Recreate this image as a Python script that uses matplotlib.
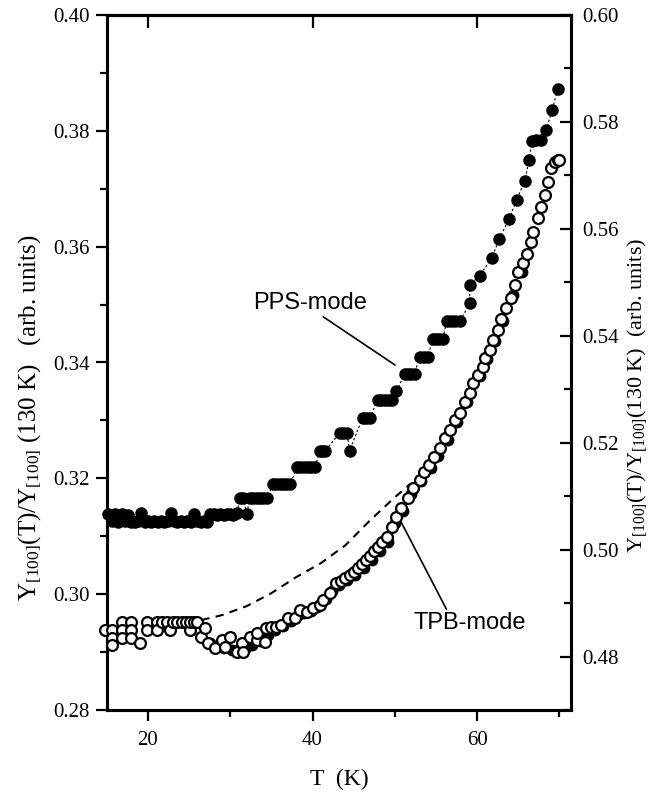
import numpy as np
import matplotlib
matplotlib.use("Agg")
import matplotlib.pyplot as plt
from matplotlib.ticker import FormatStrFormatter, NullLocator

plt.rcParams['font.family'] = ['Liberation Serif', 'DejaVu Serif']
plt.rcParams['mathtext.fontset'] = 'custom'
plt.rcParams['mathtext.rm'] = 'Liberation Serif'
plt.rcParams['mathtext.it'] = 'Liberation Serif:italic'

# PPS-mode (filled, left axis)
T_pps = [15.2, 15.6, 16.0, 16.4, 16.8, 17.2, 17.6, 18.0, 18.4, 18.8, 19.2, 19.6,
         20.0, 20.4, 20.8, 21.2, 21.6, 22.0, 22.4, 22.8, 23.2, 23.6, 24.0, 24.4,
         24.8, 25.2, 25.6, 26.0, 26.4, 26.8, 27.2, 27.6, 28.0, 28.4, 28.8, 29.2,
         29.6, 30.0, 30.4, 30.8, 31.2, 31.6, 32.0, 32.4, 32.8, 33.2, 33.6, 34.0,
         34.5, 35.2, 35.6, 36.0, 36.4, 36.8, 37.3, 38.1, 38.5, 39.0, 39.4, 39.8,
         40.3, 40.9, 41.2, 41.5, 43.3, 43.7, 44.2, 44.5, 46.1, 46.5, 47.0, 47.9,
         48.3, 48.8, 49.3, 49.7, 50.2, 51.2, 51.6, 52.0, 52.4, 53.0, 53.5, 54.0,
         54.6, 55.0, 55.4, 55.8, 56.3, 56.8, 57.3, 57.9, 59.1, 59.1, 60.3, 61.8,
         62.7, 63.9, 64.8, 65.8, 66.3, 66.7, 67.2, 67.8, 68.4, 69.1, 69.8]
Y_pps = [0.3138, 0.3126, 0.3138, 0.3124, 0.3138, 0.3126, 0.3136, 0.3124, 0.3124, 0.3126, 0.3140, 0.3124,
         0.3126, 0.3124, 0.3126, 0.3124, 0.3126, 0.3124, 0.3126, 0.3140, 0.3126, 0.3124, 0.3126, 0.3124,
         0.3126, 0.3124, 0.3138, 0.3126, 0.3124, 0.3126, 0.3124, 0.3138, 0.3138, 0.3136, 0.3138, 0.3136,
         0.3138, 0.3138, 0.3136, 0.3140, 0.3166, 0.3166, 0.3138, 0.3166, 0.3166, 0.3166, 0.3166, 0.3166,
         0.3166, 0.3190, 0.3190, 0.3190, 0.3190, 0.3190, 0.3190, 0.3219, 0.3219, 0.3219, 0.3219, 0.3219,
         0.3219, 0.3247, 0.3247, 0.3247, 0.3278, 0.3278, 0.3278, 0.3248, 0.3305, 0.3305, 0.3305, 0.3336,
         0.3336, 0.3336, 0.3336, 0.3336, 0.3350, 0.3381, 0.3381, 0.3381, 0.3381, 0.3410, 0.3410, 0.3410,
         0.3440, 0.3440, 0.3440, 0.3440, 0.3471, 0.3471, 0.3471, 0.3471, 0.3502, 0.3534, 0.3550, 0.3581,
         0.3614, 0.3648, 0.3681, 0.3714, 0.3750, 0.3783, 0.3784, 0.3784, 0.3802, 0.3836, 0.3872]

# TPB-mode (open, right axis)
T_tpb = [14.8, 15.7, 15.7, 15.7, 16.9, 16.9, 16.9, 18.0, 18.0, 18.0, 19.0, 19.9,
         19.9, 21.1, 21.1, 21.7, 22.3, 22.7, 23.1, 23.6, 24.1, 24.6, 25.1, 25.1,
         25.6, 26.0, 26.5, 26.9, 27.3, 28.1, 29.0, 29.4, 30.0, 30.8, 31.4, 31.6,
         32.4, 33.2, 33.2, 34.2, 34.4, 35.0, 35.6, 36.2, 37.0, 37.9, 38.5, 39.3,
         40.1, 40.9, 41.3, 42.1, 42.9, 43.5, 44.0, 44.5, 45.0, 45.5, 46.0, 46.5,
         47.0, 47.5, 48.0, 48.5, 49.0, 49.6, 50.2, 50.8, 51.6, 52.2, 53.0, 53.6,
         54.2, 54.8, 55.5, 56.1, 56.7, 57.3, 57.9, 58.5, 59.1, 59.5, 60.1, 60.7,
         60.9, 61.5, 61.9, 62.5, 62.9, 63.5, 64.1, 64.6, 65.0, 65.6, 66.0, 66.6,
         66.8, 67.4, 67.8, 68.2, 68.6, 69.0, 69.4, 69.8, 70.0]
Y_tpb = [0.48494, 0.48494, 0.48344, 0.48213, 0.48649, 0.48494, 0.48344, 0.48649, 0.48494, 0.48344, 0.48251, 0.48649,
         0.48494, 0.48649, 0.48494, 0.48649, 0.48649, 0.48494, 0.48649, 0.48649, 0.48649, 0.48649, 0.48494, 0.48649,
         0.48649, 0.48649, 0.48369, 0.48531, 0.48251, 0.48157, 0.48307, 0.48181, 0.48369, 0.48088, 0.48251, 0.48088,
         0.48369, 0.48307, 0.48438, 0.48275, 0.48531, 0.48556, 0.48556, 0.48587, 0.48713, 0.48713, 0.48868, 0.48836,
         0.48900, 0.48962, 0.49055, 0.49181, 0.49368, 0.49411, 0.49467, 0.49523, 0.49580, 0.49654, 0.49729, 0.49804,
         0.49879, 0.49972, 0.50047, 0.50141, 0.50234, 0.50421, 0.50614, 0.50771, 0.50958, 0.51145, 0.51300, 0.51456,
         0.51581, 0.51736, 0.51893, 0.52080, 0.52236, 0.52423, 0.52548, 0.52765, 0.52922, 0.53109, 0.53265, 0.53420,
         0.53577, 0.53732, 0.53920, 0.54107, 0.54312, 0.54518, 0.54715, 0.54949, 0.55197, 0.55370, 0.55528, 0.55759,
         0.55946, 0.56197, 0.56413, 0.56632, 0.56881, 0.57132, 0.57255, 0.57287, 0.57287]

# second TPB run (filled, mostly hidden under the open circles)
T_tpb2 = [27.5, 28.4, 29.2, 30.2, 31.0, 31.8, 32.7, 33.6, 34.6, 35.4, 36.4, 37.4,
          38.2, 39.0, 39.8, 40.6, 41.6, 42.4, 43.2, 44.2, 45.2, 46.2, 47.2, 48.2,
          49.2, 50.0, 51.0, 52.0, 53.2, 54.4, 55.2, 56.4, 57.6, 58.8, 60.4, 61.2,
          62.2, 63.2, 64.4, 65.4]
Y_tpb2 = [0.4826, 0.4820, 0.4816, 0.4813, 0.4812, 0.4815, 0.4822, 0.4830, 0.4840, 0.4850, 0.4858, 0.4866,
          0.4878, 0.4882, 0.4886, 0.4892, 0.4908, 0.4922, 0.4934, 0.4944, 0.4952, 0.4965, 0.4980, 0.4997,
          0.5015, 0.5050, 0.5073, 0.5104, 0.5128, 0.5152, 0.5175, 0.5205, 0.5238, 0.5276, 0.5324, 0.5357,
          0.5390, 0.5428, 0.5476, 0.5520]

# dashed reference curve (left axis units)
T_fit = [26.5, 29.0, 32.0, 35.0, 38.0, 41.0, 44.0, 47.0, 50.0, 51.8]
Y_fit = [0.29552, 0.29638, 0.29793, 0.30017, 0.30293, 0.30534, 0.30845, 0.31276, 0.31672, 0.31897]

W, H = 649, 793
fig = plt.figure(figsize=(W / 100, H / 100), dpi=100)
ax = fig.add_axes([106.7 / W, 1 - 710 / H, (571 - 106.7) / W, (710 - 15) / H])
ax2 = ax.twinx()

ax.plot(T_fit, Y_fit, ls=(0, (4, 3)), color='black', lw=1.5, zorder=2)
ax.plot(T_pps, Y_pps, ls=(0, (2, 2)), lw=0.8, color='black', marker='o', ms=8,
        mfc='black', mec='black', zorder=3, clip_on=False)
ax2.plot(T_tpb2, Y_tpb2, ls='none', marker='o', ms=7.5, mfc='black', mec='black',
         zorder=2)
ax2.plot(T_tpb, Y_tpb, ls='none', marker='o', ms=7.8, mfc='white', mec='black',
         mew=1.6, zorder=3, clip_on=False)

ax.set_xlim(15, 71.4)
ax.set_ylim(0.28, 0.40)
ax2.set_ylim(0.47, 0.60)

ax.set_xticks([20, 40, 60])
ax.set_xticks([30, 50, 70], minor=True)
ax.set_yticks(np.arange(0.28, 0.401, 0.02))
ax.set_yticks(np.arange(0.29, 0.40, 0.02), minor=True)
ax.yaxis.set_major_formatter(FormatStrFormatter('%.2f'))
ax2.set_yticks(np.arange(0.48, 0.601, 0.02))
ax2.set_yticks(np.arange(0.47, 0.60, 0.02), minor=True)
ax2.yaxis.set_major_formatter(FormatStrFormatter('%.2f'))

for a in (ax, ax2):
    for s in a.spines.values():
        s.set_linewidth(2.2)
ax.tick_params(axis='both', which='major', direction='out', length=8, width=1.6,
               labelsize=15, pad=4)
ax.tick_params(axis='both', which='minor', direction='out', length=5, width=1.6)
ax.tick_params(axis='x', which='major', pad=7)
ax2.tick_params(axis='y', which='major', direction='in', length=8, width=1.6,
                labelsize=15, pad=8)
ax2.tick_params(axis='y', which='minor', direction='in', length=5, width=1.6)

# top axis: major ticks only, pointing inward
top = ax.secondary_xaxis('top')
top.set_xticks([20, 40, 60])
top.xaxis.set_minor_locator(NullLocator())
top.tick_params(direction='in', length=9, width=1.6, labeltop=False)
top.spines['top'].set_linewidth(2.2)

ax.set_xlabel('T  (K)', fontsize=17, labelpad=14)
fig.text(30 / W, 1 - 418 / H, r'Y$_{[100]}$(T)/Y$_{[100]}$ (130 K)   (arb. units)',
         rotation=90, fontsize=18, ha='center', va='center')
fig.text(637 / W, 1 - 395 / H, r'Y$_{[100]}$(T)/Y$_{[100]}$(130 K)  (arb. units)',
         rotation=90, fontsize=16, ha='center', va='center')

sans = ['Liberation Sans', 'DejaVu Sans']
ax.annotate('PPS-mode', xy=(395 / W, 1 - 365 / H), xycoords='figure fraction',
            xytext=(253 / W, 1 - 303 / H), textcoords='figure fraction',
            fontsize=17, family=sans, ha='left', va='center',
            arrowprops=dict(arrowstyle='-', lw=1.2, color='black',
                            shrinkA=0, shrinkB=0, relpos=(0.58, 0.0)))
ax.annotate('TPB-mode', xy=(398 / W, 1 - 516 / H), xycoords='figure fraction',
            xytext=(413 / W, 1 - 623 / H), textcoords='figure fraction',
            fontsize=17, family=sans, ha='left', va='center',
            arrowprops=dict(arrowstyle='-', lw=1.2, color='black',
                            shrinkA=0, shrinkB=0, relpos=(0.31, 1.0)))

fig.savefig('out.png', dpi=100)
